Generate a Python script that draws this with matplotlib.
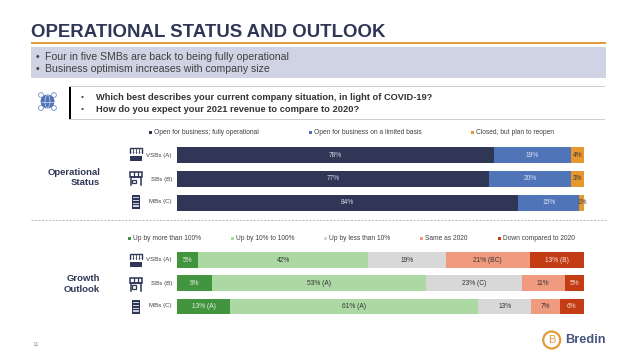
"""Operational status and outlook slide."""
import matplotlib
matplotlib.use('Agg')
import matplotlib.pyplot as plt
from matplotlib.patches import Circle, Ellipse, Rectangle

plt.rcParams['font.family'] = ['Liberation Sans', 'DejaVu Sans']

W, H = 638, 359
NAVY = '#2f3656'
TEXT = '#404040'

groups = ['VSBs (A)', 'SBs (B)', 'MBs (C)']

status_names = ['Open for business; fully operational',
                'Open for business on a limited basis',
                'Closed, but plan to reopen']
status_open = [77.7, 76.7, 83.8]
status_limited = [19.1, 20.1, 15.0]
status_closed = [3.2, 3.2, 1.2]
status_labels = [['78%', '19%', '4%'], ['77%', '20%', '3%'], ['84%', '15%', '1%']]
status_colors = ['#2f3656', '#4f74b8', '#e8962e']
status_text = ['#d5d8e2', '#dbe4f3', '#3a3a3a']

growth_names = ['Up by more than 100%', 'Up by 10% to 100%', 'Up by less than 10%',
                'Same as 2020', 'Down compared to 2020']
growth_big = [5.2, 8.6, 13.0]
growth_mid = [41.8, 52.6, 61.0]
growth_small = [19.0, 23.5, 13.0]
growth_same = [20.7, 10.6, 7.0]
growth_down = [13.3, 4.7, 6.0]
growth_labels = [['5%', '42%', '19%', '21% (BC)', '13% (B)'],
                 ['9%', '53% (A)', '23% (C)', '11%', '5%'],
                 ['13% (A)', '61% (A)', '13%', '7%', '6%']]
growth_colors = ['#43943f', '#acd8a4', '#d8d8d8', '#f09a80', '#c43c14']
growth_text = ['#e6f2e4', '#333333', '#333333', '#333333', '#f5e3dc']

fig = plt.figure(figsize=(W / 100, H / 100), dpi=100)
bg = fig.add_axes([0, 0, 1, 1])
bg.set_xlim(0, W)
bg.set_ylim(H, 0)
bg.axis('off')


def stacked(series, labels, colors, text_colors, box):
    # box is left, top, width, height in pixels
    left, top, width, height = box
    ax = fig.add_axes([left / W, 1 - (top + height) / H, width / W, height / H])
    starts = [0, 0, 0]
    for j, vals in enumerate(series):
        ax.barh(range(3), vals, left=starts, height=0.68, color=colors[j])
        for i, v in enumerate(vals):
            ax.text(starts[i] + v / 2, i, labels[i][j], ha='center', va='center',
                    fontsize=4.8, color=text_colors[j])
        starts = [s + v for s, v in zip(starts, vals)]
    ax.set_xlim(0, 100)
    ax.set_ylim(2.5, -0.5)
    ax.axis('off')


def store_icon(x, y):
    bg.add_patch(Rectangle((x - 6, y - 6.5), 12, 5, fc='white', ec=NAVY, lw=1))
    for dx in (-3, 0, 3):
        bg.plot([x + dx, x + dx], [y - 6, y - 2], color=NAVY, lw=0.6)
    bg.add_patch(Rectangle((x - 5.5, y - 1.5), 11, 2.5, fc='white', ec='none'))
    bg.add_patch(Rectangle((x - 6, y + 1), 12, 5.5, fc=NAVY))


def shop_icon(x, y):
    bg.add_patch(Rectangle((x - 6, y - 6.5), 12, 5, fc='white', ec=NAVY, lw=1.1))
    for dx in (-2, 2):
        bg.plot([x + dx, x + dx], [y - 6.5, y - 1.5], color=NAVY, lw=0.9)
    bg.plot([x - 5, x - 5, x + 5, x + 5], [y + 6.5, y - 1.5, y - 1.5, y + 6.5],
            color=NAVY, lw=1.1)
    bg.add_patch(Rectangle((x - 4.5, y + 1), 4.5, 3.5, fc='white', ec=NAVY, lw=0.9))


def tower_icon(x, y):
    bg.add_patch(Rectangle((x - 4, y - 7), 8, 14, fc=NAVY))
    for row in range(4):
        for dx in (-2.6, -0.6, 1.4):
            bg.add_patch(Rectangle((x + dx, y - 5 + row * 2.8), 1.1, 1.1, fc='#c9cddc'))


# title block
bg.text(31, 36.7, 'OPERATIONAL STATUS AND OUTLOOK', fontsize=13.4, fontweight='bold',
        color=NAVY, va='baseline')
bg.add_patch(Rectangle((31, 41.8), 575, 2.4, fc='#e39c3c'))
bg.add_patch(Rectangle((31, 47), 575, 31, fc='#cfd3e3'))
bg.text(36, 56.5, '•', fontsize=7.6, color=TEXT, va='center')
bg.text(36, 69.5, '•', fontsize=7.6, color=TEXT, va='center')
bg.text(45, 56.5, 'Four in five SMBs are back to being fully operational', fontsize=7.6,
        color=TEXT, va='center')
bg.text(45, 69.5, 'Business optimism increases with company size', fontsize=7.6,
        color=TEXT, va='center')

# question box
bg.plot([69, 604], [85.5, 85.5], color='#cccccc', lw=0.7)
bg.plot([69, 604], [119, 119], color='#cccccc', lw=0.7)
bg.add_patch(Rectangle((69, 85.5), 2.4, 33.5, fc='black'))
bg.text(81, 97, '•', fontsize=6, color=TEXT, va='center')
bg.text(81, 109, '•', fontsize=6, color=TEXT, va='center')
bg.text(96, 97, 'Which best describes your current company situation, in light of COVID-19?',
        fontsize=6.65, fontweight='bold', color='#333333', va='center')
bg.text(96, 109, 'How do you expect your 2021 revenue to compare to 2020?',
        fontsize=6.65, fontweight='bold', color='#333333', va='center')

# globe icon
bg.add_patch(Circle((47.5, 101.5), 6.5, fc='#4f74b8', ec='#2f5597', lw=0.5))
bg.add_patch(Ellipse((47.5, 101.5), 5, 13, fc='none', ec='#cfd9ee', lw=0.5))
bg.plot([41, 54], [101.5, 101.5], color='#cfd9ee', lw=0.5)
for dx, dy in ((-6.5, -6.5), (6.5, -6.5), (-6.5, 6.5), (6.5, 6.5)):
    bg.add_patch(Circle((47.5 + dx, 101.5 + dy), 2.4, fc='white', ec='#6f8fc8', lw=0.6))

# legends
for x, name, col in zip((149, 309, 471), status_names, status_colors):
    bg.add_patch(Rectangle((x, 131), 3, 3, fc=col))
    bg.text(x + 5, 132.7, name, fontsize=4.8, color=TEXT, va='center')
for x, name, col in zip((128, 231, 324, 420, 498), growth_names, growth_colors):
    bg.add_patch(Rectangle((x, 237), 3, 3, fc=col))
    bg.text(x + 5, 238.7, name, fontsize=4.8, color=TEXT, va='center')

stacked([status_open, status_limited, status_closed], status_labels,
        status_colors, status_text, (177.3, 143.5, 407, 71))
stacked([growth_big, growth_mid, growth_small, growth_same, growth_down], growth_labels,
        growth_colors, growth_text, (177, 248.5, 407, 69.5))

# row labels and icons
for y1, y2, name in zip((155, 179, 202), (260, 283, 306), groups):
    bg.text(172, y1, name, fontsize=4.4, color=TEXT, ha='right', va='center')
    bg.text(172, y2, name, fontsize=4.4, color=TEXT, ha='right', va='center')
for y_vals in ((154.5, 178.5, 202), (260.5, 284, 307)):
    store_icon(136, y_vals[0])
    shop_icon(136, y_vals[1])
    tower_icon(136, y_vals[2])

bg.text(100, 177.5, 'Operational\nStatus', fontsize=6.8, fontweight='bold', color=NAVY,
        ha='right', va='center', linespacing=1.2)
bg.text(100, 284, 'Growth\nOutlook', fontsize=6.8, fontweight='bold', color=NAVY,
        ha='right', va='center', linespacing=1.2)

# dashed divider
bg.plot([31, 606], [220, 220], color='#a0a0a0', lw=0.5, ls=(0, (3, 2)))

# footer
bg.text(32, 344, '11', fontsize=4.5, color='#999999', va='center')
bg.add_patch(Circle((551.7, 340), 8.5, fc='white', ec='#e39c3c', lw=1.6))
bg.text(551.7, 340.3, 'B', fontsize=8, color='#e39c3c', ha='center', va='center')
bg.text(565.5, 340, 'Bredin', fontsize=9.2, fontweight='bold', color='#46557f', va='center')

fig.savefig('out.png', dpi=100)
